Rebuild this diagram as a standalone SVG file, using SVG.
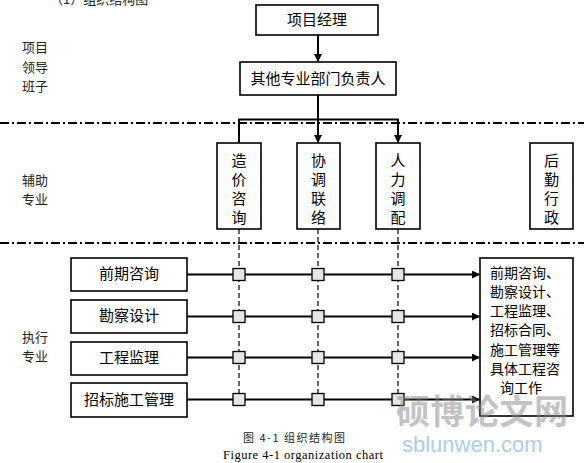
<svg xmlns="http://www.w3.org/2000/svg" width="584" height="463" viewBox="0 0 584 463">
<style>
.box{fill:#fff;stroke:#000;stroke-width:1.6}
.t{font-family:"Noto Sans CJK SC","Liberation Serif",serif;font-size:14px;fill:#000}
.tb{font-family:"Noto Sans CJK SC","Liberation Serif",serif;font-size:15px;fill:#000;text-anchor:middle}
.lbl{font-family:"Noto Sans CJK SC","Liberation Serif",serif;font-size:13px;fill:#222}
.sep{stroke:#000;stroke-width:2;stroke-dasharray:9 3 2 3}
.ln{stroke:#000;stroke-width:2;fill:none}
.vd{stroke:#000;stroke-width:1.2;stroke-dasharray:5 3}
.sq{fill:#e6e6e6;stroke:#000;stroke-width:1.3}
</style>
<defs>
<marker id="ah" markerWidth="8" markerHeight="8" refX="7" refY="4" orient="auto" markerUnits="userSpaceOnUse">
<path d="M0,0 L8,4 L0,8 Z" fill="#000"/>
</marker>
</defs>
<rect width="584" height="463" fill="#fff"/>
<text class="lbl" x="50" y="4">（1）组织结构图</text>
<g id="side-labels">
<text class="lbl" x="22" y="52">项目</text>
<text class="lbl" x="22" y="72">领导</text>
<text class="lbl" x="22" y="91">班子</text>
<text class="lbl" x="22" y="185">辅助</text>
<text class="lbl" x="22" y="204">专业</text>
<text class="lbl" x="22" y="342">执行</text>
<text class="lbl" x="22" y="361">专业</text>
</g>
<g id="separators">
<line class="sep" x1="0" y1="123" x2="584" y2="123"/>
<line class="sep" x1="0" y1="243" x2="584" y2="243"/>
</g>
<g id="connectors">
<line class="ln" x1="318" y1="35" x2="318" y2="61" marker-end="url(#ah)"/>
<line class="ln" x1="318" y1="95" x2="318" y2="142" marker-end="url(#ah)"/>
<polyline class="ln" points="239,142 239,119.5 398,119.5 398,142" marker-start="url(#ah)" marker-end="url(#ah)"/>
<line class="vd" x1="239" y1="229" x2="239" y2="405"/>
<line class="vd" x1="318" y1="229" x2="318" y2="405"/>
<line class="vd" x1="398" y1="229" x2="398" y2="405"/>
<line class="ln" x1="187" y1="274.5" x2="479" y2="274.5" marker-end="url(#ah)"/>
<line class="ln" x1="187" y1="316.5" x2="479" y2="316.5" marker-end="url(#ah)"/>
<line class="ln" x1="187" y1="357.5" x2="479" y2="357.5" stroke-width="3" marker-end="url(#ah)"/>
<line class="ln" x1="187" y1="399.5" x2="479" y2="399.5" marker-end="url(#ah)"/>
<g id="junctions">
<rect class="sq" x="233" y="268.5" width="12" height="12"/>
<rect class="sq" x="312" y="268.5" width="12" height="12"/>
<rect class="sq" x="392" y="268.5" width="12" height="12"/>
<rect class="sq" x="233" y="310.5" width="12" height="12"/>
<rect class="sq" x="312" y="310.5" width="12" height="12"/>
<rect class="sq" x="392" y="310.5" width="12" height="12"/>
<rect class="sq" x="233" y="351.5" width="12" height="12"/>
<rect class="sq" x="312" y="351.5" width="12" height="12"/>
<rect class="sq" x="392" y="351.5" width="12" height="12"/>
<rect class="sq" x="233" y="393.5" width="12" height="12"/>
<rect class="sq" x="312" y="393.5" width="12" height="12"/>
<rect class="sq" x="392" y="393.5" width="12" height="12"/>
</g>
</g>
<g id="pm">
<rect class="box" x="256" y="5" width="122" height="30"/>
<text class="tb" x="317" y="25">项目经理</text>
</g>
<g id="heads">
<rect class="box" x="240" y="62" width="156" height="33"/>
<text class="tb" x="318" y="84">其他专业部门负责人</text>
</g>
<g id="cost">
<rect class="box" x="217" y="143" width="44" height="86"/>
<text class="tb" x="239" y="166">造</text><text class="tb" x="239" y="185">价</text><text class="tb" x="239" y="204">咨</text><text class="tb" x="239" y="223">询</text>
</g>
<g id="coord">
<rect class="box" x="297" y="143" width="43" height="86"/>
<text class="tb" x="318.5" y="166">协</text><text class="tb" x="318.5" y="185">调</text><text class="tb" x="318.5" y="204">联</text><text class="tb" x="318.5" y="223">络</text>
</g>
<g id="hr">
<rect class="box" x="376" y="143" width="44" height="86"/>
<text class="tb" x="398" y="166">人</text><text class="tb" x="398" y="185">力</text><text class="tb" x="398" y="204">调</text><text class="tb" x="398" y="223">配</text>
</g>
<g id="logistics">
<rect class="box" x="530" y="143" width="43" height="86"/>
<text class="tb" x="551.5" y="166">后</text><text class="tb" x="551.5" y="185">勤</text><text class="tb" x="551.5" y="204">行</text><text class="tb" x="551.5" y="223">政</text>
</g>
<g id="early">
<rect class="box" x="71" y="258" width="116" height="33"/>
<text class="tb" x="129" y="279" font-size="14">前期咨询</text>
</g>
<g id="survey">
<rect class="box" x="71" y="300" width="116" height="33"/>
<text class="tb" x="129" y="321" font-size="14">勘察设计</text>
</g>
<g id="supervision">
<rect class="box" x="71" y="342" width="116" height="33"/>
<text class="tb" x="129" y="363" font-size="14">工程监理</text>
</g>
<g id="bidding">
<rect class="box" x="71" y="383" width="116" height="34"/>
<text class="tb" x="129" y="405" font-size="14">招标施工管理</text>
</g>
<g id="result">
<rect class="box" x="480" y="258" width="93" height="158"/>
<text class="t" x="490" y="278">前期咨询、</text>
<text class="t" x="490" y="297">勘察设计、</text>
<text class="t" x="490" y="316">工程监理、</text>
<text class="t" x="490" y="335">招标合同、</text>
<text class="t" x="490" y="355">施工管理等</text>
<text class="t" x="490" y="374">具体工程咨</text>
<text class="t" x="500" y="393">询工作</text>
</g>
<g id="watermark" opacity="0.5">
<text x="396" y="424" font-family="Noto Sans CJK SC,sans-serif" font-size="34" font-weight="bold" fill="#888" textLength="172">硕博论文网</text>
<text x="402" y="452" font-family="Liberation Sans,sans-serif" font-size="22" fill="#5a9ad8">sblunwen.com</text>
</g>
<g id="caption">
<text x="243" y="442" font-family="Noto Sans CJK SC,serif" font-size="11" fill="#222" textLength="102">图 4-1  组织结构图</text>
<text x="223" y="459" font-family="Liberation Serif,serif" font-size="12.5" fill="#000" textLength="160">Figure 4-1 organization chart</text>
</g>
</svg>
